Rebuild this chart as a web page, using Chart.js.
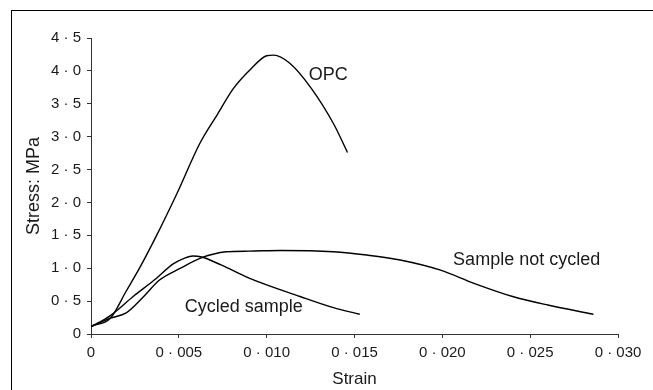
<!DOCTYPE html>
<html>
<head>
<meta charset="utf-8">
<script src="https://cdn.jsdelivr.net/npm/chart.js@4/dist/chart.umd.min.js"></script>
<style>
  html, body { margin: 0; padding: 0; background: #fff; }
  #wrap { position: relative; width: 653px; height: 390px; overflow: hidden; }
  #frame {
    position: absolute; left: 11px; top: 10px; width: 700px; height: 400px;
    border-top: 1.5px solid #000; border-left: 1.5px solid #000;
  }
  #stress-chart { position: absolute; left: 0; top: 0; }
</style>
</head>
<body>
<div id="wrap">
  <div id="frame"></div>
  <canvas id="stress-chart" width="653" height="390"></canvas>
</div>
<script>
const opcStrain = [0, 0.0011, 0.002, 0.0028, 0.0037, 0.0049, 0.0062, 0.0072, 0.0081, 0.0091, 0.0100, 0.0104, 0.0113, 0.0125, 0.0138, 0.0146];
const opcStress = [0.12, 0.24, 0.65, 1.02, 1.48, 2.14, 2.90, 3.34, 3.73, 4.03, 4.23, 4.24, 4.12, 3.75, 3.20, 2.76];

const cycledStrain = [0, 0.0011, 0.0024, 0.0036, 0.0047, 0.0053, 0.0058, 0.0063, 0.0074, 0.009, 0.0119, 0.0138, 0.0153];
const cycledStress = [0.11, 0.28, 0.57, 0.82, 1.07, 1.15, 1.185, 1.17, 1.05, 0.85, 0.57, 0.40, 0.30];

const notCycledStrain = [0, 0.0011, 0.002, 0.003, 0.0039, 0.0051, 0.0062, 0.0077, 0.009, 0.0108, 0.0138, 0.0157, 0.0176, 0.0199, 0.0218, 0.024, 0.026, 0.0286];
const notCycledStress = [0.11, 0.24, 0.32, 0.57, 0.82, 1.0, 1.15, 1.25, 1.26, 1.27, 1.25, 1.20, 1.125, 0.97, 0.77, 0.57, 0.44, 0.30];

const xTickValues = [0, 0.005, 0.010, 0.015, 0.020, 0.025, 0.030];
const xTickLabels = ["0", "0 · 005", "0 · 010", "0 · 015", "0 · 020", "0 · 025", "0 · 030"];
const yTickValues = [0, 0.5, 1.0, 1.5, 2.0, 2.5, 3.0, 3.5, 4.0, 4.5];
const yTickLabels = ["0", "0 · 5", "1 · 0", "1 · 5", "2 · 0", "2 · 5", "3 · 0", "3 · 5", "4 · 0", "4 · 5"];

const curveLabels = ["OPC", "Sample not cycled", "Cycled sample"];
const curveLabelStrain = [0.0135, 0.0248, 0.0087];
const curveLabelStress = [3.94, 1.13, 0.41];

const FONT = "'Liberation Sans', Arial, sans-serif";
const INK = "#1a1a1a";

function toPoints(xs, ys) {
  return xs.map((x, i) => ({ x, y: ys[i] }));
}

function tickLabel(values, labels) {
  return (value) => {
    const index = values.findIndex((v) => Math.abs(v - value) < 1e-9);
    return index >= 0 ? labels[index] : "";
  };
}

function lineDataset(label, xs, ys) {
  return {
    label,
    data: toPoints(xs, ys),
    showLine: true,
    borderColor: "#000",
    borderWidth: 1.4,
    pointRadius: 0,
    cubicInterpolationMode: "monotone",
    fill: false
  };
}

const curveLabelPlugin = {
  id: "curveLabels",
  afterDatasetsDraw(chart) {
    const { ctx, scales } = chart;
    ctx.save();
    ctx.font = `18px ${FONT}`;
    ctx.fillStyle = INK;
    ctx.textAlign = "center";
    ctx.textBaseline = "middle";
    curveLabels.forEach((text, i) => {
      ctx.fillText(text, scales.x.getPixelForValue(curveLabelStrain[i]), scales.y.getPixelForValue(curveLabelStress[i]));
    });
    ctx.restore();
  }
};

new Chart(document.getElementById("stress-chart"), {
  type: "scatter",
  data: {
    datasets: [
      lineDataset("OPC", opcStrain, opcStress),
      lineDataset("Cycled sample", cycledStrain, cycledStress),
      lineDataset("Sample not cycled", notCycledStrain, notCycledStress)
    ]
  },
  plugins: [curveLabelPlugin],
  options: {
    responsive: false,
    animation: false,
    layout: {
      padding: { left: 0, top: 38, right: 35, bottom: 0 }
    },
    plugins: {
      legend: { display: false },
      tooltip: { enabled: false }
    },
    scales: {
      x: {
        type: "linear",
        min: 0,
        max: 0.03,
        afterBuildTicks(scale) {
          scale.ticks = xTickValues.map((value) => ({ value }));
        },
        afterFit(scale) {
          scale.height = 56;
        },
        ticks: {
          color: INK,
          font: { family: FONT, size: 15 },
          padding: 6,
          maxRotation: 0,
          autoSkip: false,
          callback: tickLabel(xTickValues, xTickLabels)
        },
        grid: {
          drawOnChartArea: false,
          drawTicks: true,
          tickLength: 4,
          color: "#333"
        },
        border: { color: "#333", width: 1 },
        title: {
          display: true,
          text: "Strain",
          color: INK,
          font: { family: FONT, size: 17 },
          padding: { top: 0, bottom: 0 }
        }
      },
      y: {
        type: "linear",
        min: 0,
        max: 4.5,
        afterBuildTicks(scale) {
          scale.ticks = yTickValues.map((value) => ({ value }));
        },
        afterFit(scale) {
          scale.width = 91;
        },
        ticks: {
          color: INK,
          font: { family: FONT, size: 15 },
          padding: 6,
          autoSkip: false,
          callback: tickLabel(yTickValues, yTickLabels)
        },
        grid: {
          drawOnChartArea: false,
          drawTicks: true,
          tickLength: 4,
          color: "#333"
        },
        border: { color: "#333", width: 1 },
        title: {
          display: true,
          text: "Stress: MPa",
          color: INK,
          font: { family: FONT, size: 18 },
          padding: { top: 23, bottom: 0 }
        }
      }
    }
  }
});
</script>
</body>
</html>
